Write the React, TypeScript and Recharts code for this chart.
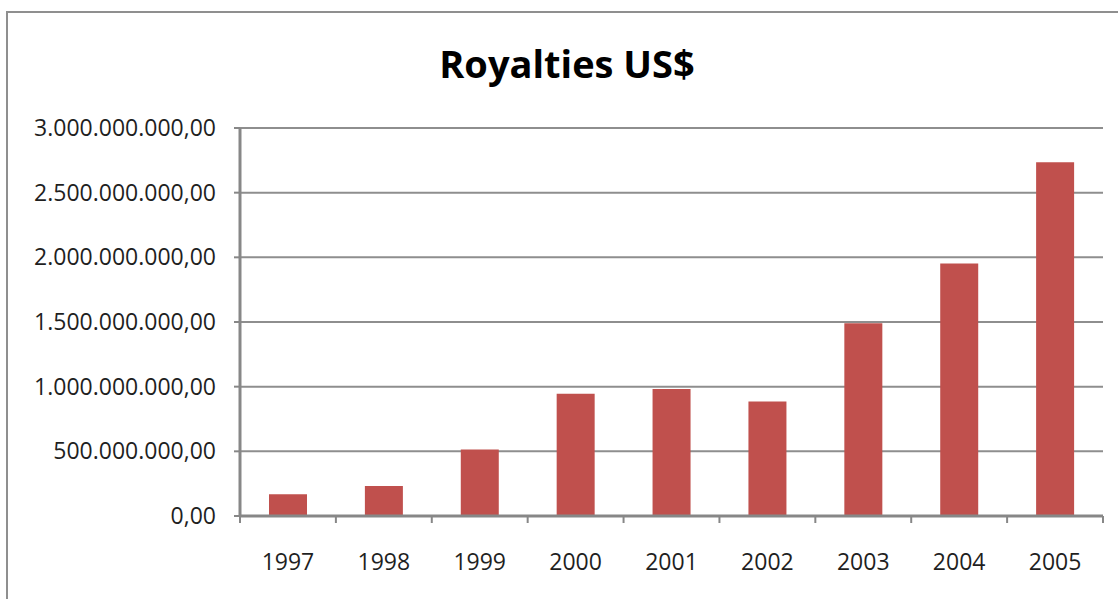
import { Bar, BarChart, CartesianGrid, XAxis, YAxis } from 'recharts'

const years = ['1997', '1998', '1999', '2000', '2001', '2002', '2003', '2004', '2005']
const royalties = [
  168000000, 232000000, 515000000, 946000000, 981000000, 886000000, 1491000000, 1953000000,
  2736000000,
]
const yTicks = [0, 500000000, 1000000000, 1500000000, 2000000000, 2500000000, 3000000000]

const data = years.map((year, i) => ({ year, value: royalties[i] }))

const WIDTH = 1118
const HEIGHT = 599
const MARGIN = { top: 128, right: 15, bottom: 0, left: 0 }
const Y_AXIS_WIDTH = 240
const X_AXIS_HEIGHT = 83
const AXIS_COLOR = '#878787'
const GRID_COLOR = '#8e8e8e'
const TEXT_COLOR = '#1f1f1f'
const FONT = '"Open Sans", "Noto Sans", sans-serif'

// brazilian style: 3.000.000.000,00
function formatMoney(v: number): string {
  const int = Math.round(v).toString().replace(/\B(?=(\d{3})+(?!\d))/g, '.')
  return `${int},00`
}

const band = (WIDTH - MARGIN.left - MARGIN.right - Y_AXIS_WIDTH) / years.length

function YearTick(props: any) {
  const { x, y, payload, index } = props
  return (
    <g>
      <line x1={x - band / 2} x2={x - band / 2} y1={y} y2={y + 7} stroke={AXIS_COLOR} strokeWidth={2} />
      {index === years.length - 1 && (
        <line x1={x + band / 2} x2={x + band / 2} y1={y} y2={y + 7} stroke={AXIS_COLOR} strokeWidth={2} />
      )}
      <text x={x} y={y + 54} textAnchor="middle" fill={TEXT_COLOR} fontSize={23} fontFamily={FONT}>
        {payload.value}
      </text>
    </g>
  )
}

export default function App() {
  return (
    <div
      style={{
        position: 'absolute',
        left: 0,
        top: 0,
        width: WIDTH,
        height: HEIGHT,
        overflow: 'hidden',
        background: '#ffffff',
      }}
    >
      <div
        style={{
          position: 'absolute',
          left: 6,
          top: 11,
          width: WIDTH,
          height: HEIGHT,
          border: '2px solid #8f8f8f',
        }}
      />
      <svg width={WIDTH} height={HEIGHT} style={{ position: 'absolute', left: 0, top: 0 }}>
        <text
          x={567}
          y={78}
          textAnchor="middle"
          fontFamily={FONT}
          fontWeight={700}
          fontSize={38}
          fill="#000000"
        >
          Royalties US$
        </text>
      </svg>
      <div style={{ position: 'absolute', left: 0, top: 0 }}>
        <BarChart width={WIDTH} height={HEIGHT} data={data} margin={MARGIN}>
          <CartesianGrid vertical={false} stroke={GRID_COLOR} strokeWidth={2} />
          <XAxis
            dataKey="year"
            height={X_AXIS_HEIGHT}
            tickSize={0}
            tickMargin={0}
            tickLine={false}
            axisLine={{ stroke: AXIS_COLOR, strokeWidth: 3 }}
            tick={<YearTick />}
            interval={0}
          />
          <YAxis
            width={Y_AXIS_WIDTH}
            domain={[0, 3000000000]}
            ticks={yTicks}
            tickFormatter={formatMoney}
            tickSize={6}
            tickMargin={18}
            tickLine={{ stroke: AXIS_COLOR, strokeWidth: 2 }}
            axisLine={{ stroke: AXIS_COLOR, strokeWidth: 3 }}
            tick={{ fill: TEXT_COLOR, fontSize: 23, fontFamily: FONT }}
          />
          <Bar dataKey="value" fill="#C0504D" barSize={38} isAnimationActive={false} />
        </BarChart>
      </div>
    </div>
  )
}
